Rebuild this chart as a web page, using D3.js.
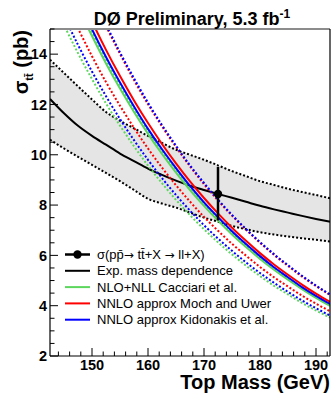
<!DOCTYPE html>
<html>
<head>
<meta charset="utf-8">
<script src="https://cdn.jsdelivr.net/npm/d3@7"></script>
<style>
  body { margin: 0; background: #fff; }
  svg { display: block; font-family: "Liberation Sans", Arial, sans-serif; }
</style>
</head>
<body>
<svg id="vis" width="333" height="393"></svg>
<script>
// masses (GeV) shared by all curves
var mass = [142.5, 145, 147.5, 150, 152.5, 155, 157.5, 160, 162.5, 165, 167.5,
            170, 172.5, 175, 177.5, 180, 182.5, 185, 187.5, 190, 192.5];

// experimental mass dependence + band
var expCentral = [12.22, 11.65, 11.15, 10.75, 10.4, 10.05, 9.75, 9.45, 9.2, 8.97, 8.77,
                  8.6, 8.44, 8.29, 8.13, 7.97, 7.83, 7.7, 7.57, 7.45, 7.34];
var expUpper = [13.78, 13.25, 12.72, 12.2, 11.7, 11.35, 11.05, 10.75, 10.47, 10.2, 10.0,
                9.8, 9.58, 9.35, 9.15, 8.95, 8.8, 8.65, 8.52, 8.4, 8.27];
var expLower = [10.6, 10.25, 9.92, 9.6, 9.28, 8.95, 8.6, 8.25, 8.06, 7.9, 7.7,
                7.5, 7.34, 7.17, 7.04, 6.92, 6.83, 6.75, 6.68, 6.62, 6.55];

// NLO+NLL Cacciari et al.
var cacciari = [18.54, 17.16, 15.89, 14.72, 13.63, 12.63, 11.70, 10.83, 10.03, 9.29, 8.60,
                7.97, 7.38, 6.83, 6.33, 5.86, 5.43, 5.03, 4.66, 4.31, 3.99];
var cacciariHi = [18.73, 17.34, 16.06, 14.87, 13.77, 12.76, 11.82, 10.94, 10.14, 9.39, 8.69,
                  8.05, 7.46, 6.90, 6.40, 5.92, 5.48, 5.08, 4.70, 4.35, 4.03];
var cacciariLo = [16.38, 15.16, 14.04, 13.01, 12.04, 11.16, 10.34, 9.57, 8.87, 8.21, 7.60,
                  7.04, 6.52, 6.04, 5.59, 5.18, 4.79, 4.45, 4.11, 3.81, 3.53];

// NNLO approx Moch and Uwer
var moch = [19.27, 17.84, 16.52, 15.30, 14.17, 13.13, 12.16, 11.26, 10.43, 9.66, 8.94,
            8.28, 7.67, 7.10, 6.58, 6.09, 5.64, 5.23, 4.84, 4.48, 4.15];
var mochHi = [20.56, 19.04, 17.63, 16.33, 15.12, 14.01, 12.97, 12.01, 11.13, 10.31, 9.54,
              8.83, 8.18, 7.58, 7.02, 6.50, 6.02, 5.58, 5.16, 4.78, 4.43];
var mochLo = [17.54, 16.23, 15.03, 13.92, 12.89, 11.95, 11.07, 10.25, 9.49, 8.79, 8.14,
              7.53, 6.98, 6.46, 5.99, 5.54, 5.13, 4.76, 4.40, 4.08, 3.78];

// NNLO approx Kidonakis et al.
var kido = [18.88, 17.48, 16.19, 14.99, 13.89, 12.87, 11.92, 11.03, 10.22, 9.47, 8.76,
            8.11, 7.52, 6.96, 6.45, 5.97, 5.53, 5.13, 4.74, 4.39, 4.07];
var kidoHi = [20.66, 19.12, 17.71, 16.40, 15.19, 14.07, 13.04, 12.07, 11.18, 10.36, 9.58,
              8.88, 8.22, 7.61, 7.05, 6.53, 6.05, 5.61, 5.19, 4.80, 4.45];
var kidoLo = [16.76, 15.52, 14.37, 13.31, 12.33, 11.42, 10.58, 9.80, 9.07, 8.40, 7.78,
              7.20, 6.67, 6.18, 5.72, 5.30, 4.91, 4.55, 4.21, 3.90, 3.61];

// measurement
var measMass = 172.5;
var measXsec = 8.44;
var measUp = 9.52;
var measDown = 7.39;

var xTicks = [150, 160, 170, 180, 190];
var yTicks = [2, 4, 6, 8, 10, 12, 14];
var legendLabels = ["σ(pp̄→ tt̄+X → ll+X)", "Exp. mass dependence",
                    "NLO+NLL Cacciari et al.", "NNLO approx Moch and Uwer",
                    "NNLO approx Kidonakis et al."];

var green = "#5cd65c", red = "#ff0000", blue = "#0000ff";

var vis = d3.select("#vis");
// frame edges (don't call these top/left, window.top is taken)
var fL = 50, fR = 330, fT = 29, fB = 356;

var x = d3.scaleLinear().domain([142.5, 192.5]).range([fL, fR]);
var y = d3.scaleLinear().domain([2, 15]).range([fB, fT]);

vis.append("clipPath").attr("id", "clip")
    .append("rect")
    .attr("x", fL).attr("y", fT)
    .attr("width", fR - fL).attr("height", fB - fT);

var plot = vis.append("g").attr("clip-path", "url(#clip)");

function pts(vals) {
    return mass.map((m, i) => [m, vals[i]]);
}

var line = d3.line()
    .x(d => x(d[0]))
    .y(d => y(d[1]))
    .curve(d3.curveMonotoneX);

// grey band
var area = d3.area()
    .x((d, i) => x(mass[i]))
    .y0((d, i) => y(expLower[i]))
    .y1((d, i) => y(expUpper[i]))
    .curve(d3.curveMonotoneX);

plot.append("path")
    .datum(mass)
    .attr("d", area)
    .attr("fill", "#e5e5e5");

function draw(vals, color, dotted, offset) {
    var p = plot.append("path")
        .datum(pts(vals))
        .attr("d", line)
        .attr("fill", "none")
        .attr("stroke", color)
        .attr("stroke-width", 2);
    if (dotted) {
        p.attr("stroke-dasharray", "2,2")
         .attr("stroke-dashoffset", offset || 0);
    }
}

draw(expUpper, "#000", true);
draw(expLower, "#000", true);
draw(expCentral, "#000", false);

// theory uncertainties (dotted)
draw(cacciariLo, green, true);
draw(kidoLo, blue, true);
draw(mochLo, red, true);
draw(cacciariHi, green, true);
draw(mochHi, red, true);
draw(kidoHi, blue, true, 2);

// theory central
draw(cacciari, green, false);
draw(kido, blue, false);
draw(moch, red, false);

// measurement point
plot.append("line")
    .attr("x1", x(measMass)).attr("x2", x(measMass))
    .attr("y1", y(measUp)).attr("y2", y(measDown))
    .attr("stroke", "#000").attr("stroke-width", 2.5);
plot.append("circle")
    .attr("cx", x(measMass)).attr("cy", y(measXsec))
    .attr("r", 4.2).attr("fill", "#000");

// frame
vis.append("line").attr("x1", fL).attr("x2", fR).attr("y1", fT).attr("y2", fT)
    .attr("stroke", "#8c8c8c").attr("stroke-width", 2);
vis.append("line").attr("x1", fR).attr("x2", fR).attr("y1", fT).attr("y2", fB)
    .attr("stroke", "#000").attr("stroke-width", 1.2);

// axes: ticks drawn inside the frame
var xAxis = vis.append("g").attr("transform", `translate(0,${fB})`);
xAxis.append("line").attr("x1", fL).attr("x2", fR).attr("stroke", "#000").attr("stroke-width", 1.2);
xAxis.selectAll(".xminor").data(d3.range(144, 193, 2)).enter().append("line")
    .attr("x1", d => x(d)).attr("x2", d => x(d))
    .attr("y1", 0).attr("y2", d => d % 10 == 0 ? -8 : -4.5)
    .attr("stroke", "#000");
xAxis.selectAll("text").data(xTicks).enter().append("text")
    .attr("x", d => x(d)).attr("y", 14)
    .attr("text-anchor", "middle")
    .attr("font-size", "14.5px").attr("font-weight", "bold")
    .text(d => d);

var yAxis = vis.append("g").attr("transform", `translate(${fL},0)`);
yAxis.append("line").attr("y1", fT).attr("y2", fB).attr("stroke", "#000").attr("stroke-width", 1.2);
yAxis.selectAll(".yminor").data(d3.range(2, 15.01, 0.5)).enter().append("line")
    .attr("y1", d => y(d)).attr("y2", d => y(d))
    .attr("x1", 0).attr("x2", d => d % 2 == 0 ? 8 : 4.5)
    .attr("stroke", "#000");
yAxis.selectAll("text").data(yTicks).enter().append("text")
    .attr("x", -3).attr("y", d => y(d))
    .attr("dy", "0.36em")
    .attr("text-anchor", "end")
    .attr("font-size", "14.5px").attr("font-weight", "bold")
    .text(d => d);

// titles
var title = vis.append("text")
    .attr("x", 192).attr("y", 25)
    .attr("text-anchor", "middle")
    .attr("font-size", "18px").attr("font-weight", "bold");
title.append("tspan").text("DØ Preliminary, 5.3 fb");
title.append("tspan").attr("dy", -7).attr("font-size", "12px").text("-1");

vis.append("text")
    .attr("x", 330).attr("y", 389)
    .attr("text-anchor", "end")
    .attr("font-size", "20px").attr("font-weight", "bold")
    .text("Top Mass (GeV)");

var ylab = vis.append("text")
    .attr("transform", "translate(28,30) rotate(-90)")
    .attr("text-anchor", "end")
    .attr("font-size", "20px").attr("font-weight", "bold");
ylab.append("tspan").text("σ");
ylab.append("tspan").attr("dy", 5).attr("font-size", "11px").text("tt̄");
ylab.append("tspan").attr("dy", -5).text(" (pb)");

// legend
var legendY = [254.5, 270.8, 287.1, 303.4, 319.7];
var legendColor = ["#000", "#000", green, red, blue];
var legend = vis.append("g");
legendLabels.forEach((lab, i) => {
    legend.append("line")
        .attr("x1", 65).attr("x2", 90)
        .attr("y1", legendY[i]).attr("y2", legendY[i])
        .attr("stroke", legendColor[i])
        .attr("stroke-width", i == 0 ? 2.5 : 2);
    if (i == 0) {
        legend.append("circle").attr("cx", 77.5).attr("cy", legendY[i]).attr("r", 4.2).attr("fill", "#000");
    }
    var t = legend.append("text")
        .attr("x", 97).attr("y", legendY[i])
        .attr("dy", "0.35em")
        .attr("font-size", "13px");
    // arrows are tiny in Liberation Sans, take them from DejaVu
    lab.split(/(→)/).forEach(part => {
        var s = t.append("tspan").text(part);
        if (part == "→") s.attr("font-family", "DejaVu Sans").attr("font-size", "12px");
    });
});
</script>
</body>
</html>
